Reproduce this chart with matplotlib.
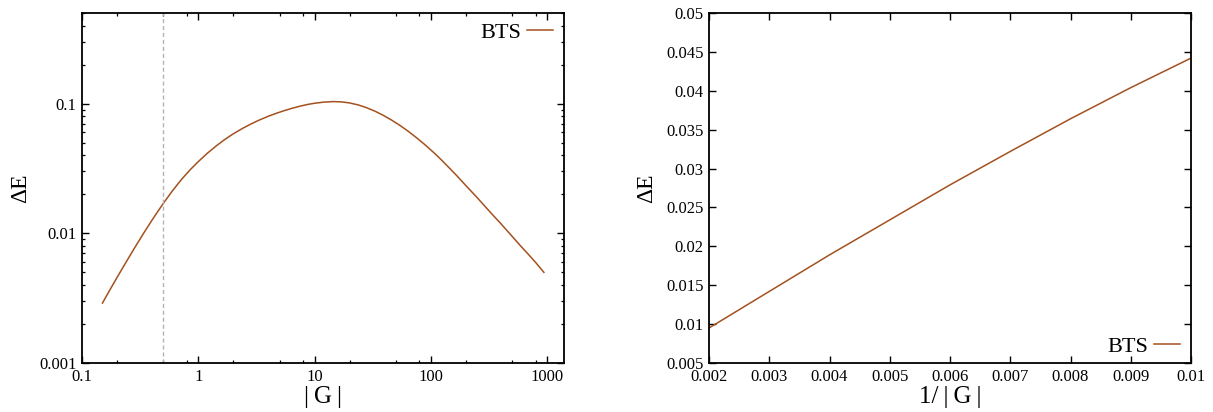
import matplotlib
matplotlib.use("Agg")
import matplotlib.pyplot as plt
from matplotlib import ticker

# ---- data ----
G_left = [0.15, 0.17, 0.2, 0.24, 0.29, 0.34, 0.4, 0.45, 0.5, 0.6, 0.72, 0.85,
          1.0, 1.2, 1.44, 1.7, 2.0, 2.4, 2.8, 3.3, 4.0, 4.7, 5.4, 6.4, 7.5,
          8.7, 10, 12, 14.5, 17, 20, 24, 28, 33, 39, 46, 54, 64, 76, 88, 100,
          111, 125, 143, 167, 200, 250, 333, 400, 500, 600, 700, 800, 940]
dE_left = [0.0029, 0.00354, 0.00456, 0.00602, 0.00799, 0.01006, 0.01262,
           0.01479, 0.01698, 0.02128, 0.02612, 0.03085, 0.0357, 0.04152,
           0.0475, 0.0531, 0.0585, 0.0644, 0.0692, 0.0743, 0.0799, 0.0843,
           0.0879, 0.0920, 0.0956, 0.0985, 0.1007, 0.1027, 0.1037, 0.1032,
           0.1013, 0.0975, 0.0931, 0.0876, 0.0813, 0.0747, 0.0682, 0.0612,
           0.0543, 0.0487, 0.0440, 0.0404, 0.0364, 0.0322, 0.0279, 0.0234,
           0.0189, 0.0142, 0.0119, 0.0095, 0.0079, 0.0068, 0.00595, 0.0050]
G_marker = 0.5

invG_right = [0.002, 0.003, 0.004, 0.005, 0.006, 0.007, 0.008, 0.009, 0.010]
dE_right = [0.0095, 0.0142, 0.0189, 0.0234, 0.0279, 0.0322, 0.0364, 0.0404, 0.0442]

series_label = "BTS"
line_color = "#a3511f"

plt.rcParams['font.family'] = ['Liberation Serif', 'DejaVu Serif']

W, H = 1213, 412
fig = plt.figure(figsize=(W / 100, H / 100), dpi=100)

def axrect(x0, x1, y0, y1):
    return [x0 / W, 1 - y1 / H, (x1 - x0) / W, (y1 - y0) / H]

fmt = ticker.FuncFormatter(lambda v, p: '%g' % v)

def style(ax):
    for s in ax.spines.values():
        s.set_linewidth(1.3)
        s.set_color('black')
    ax.tick_params(which='both', direction='in', top=True, right=True,
                   labelsize=12, colors='black')
    ax.tick_params(which='major', length=5, width=1.0, pad=4)
    ax.tick_params(which='minor', length=2.5, width=0.9)

leg_kw = dict(markerfirst=False, frameon=False, fontsize=16,
              handlelength=1.15, handletextpad=0.25, borderpad=0.2,
              borderaxespad=0.0)

# ---- left panel ----
ax1 = fig.add_axes(axrect(82, 564, 13, 363))
ax1.set_xscale('log')
ax1.set_yscale('log')
ax1.plot(G_left, dE_left, color=line_color, lw=1.1, label=series_label)
ax1.axvline(G_marker, color='#b4b4b4', lw=1.0, ls=(0, (3, 2)))
ax1.set_xlim(0.1, 1400)
ax1.set_ylim(0.001, 0.5)
ax1.xaxis.set_major_locator(ticker.FixedLocator([0.1, 1, 10, 100, 1000]))
ax1.xaxis.set_minor_locator(ticker.LogLocator(base=10, subs=[2, 5, 8]))
ax1.yaxis.set_major_locator(ticker.FixedLocator([0.001, 0.01, 0.1]))
ax1.yaxis.set_minor_locator(ticker.LogLocator(base=10, subs=[2, 3, 4, 5, 6, 7, 8, 9]))
ax1.xaxis.set_major_formatter(fmt)
ax1.yaxis.set_major_formatter(fmt)
ax1.xaxis.set_minor_formatter(ticker.NullFormatter())
ax1.yaxis.set_minor_formatter(ticker.NullFormatter())
style(ax1)
ax1.set_xlabel('|\u2009G\u2009|', fontsize=18, labelpad=1)
ax1.set_ylabel('ΔE', fontsize=17, labelpad=6)
ax1.legend(loc='upper right', bbox_to_anchor=(0.9855, 0.9857), **leg_kw)

# ---- right panel ----
ax2 = fig.add_axes(axrect(709, 1191, 13, 363))
ax2.plot(invG_right, dE_right, color=line_color, lw=1.1, label=series_label)
ax2.set_xlim(0.002, 0.01)
ax2.set_ylim(0.005, 0.05)
ax2.xaxis.set_major_locator(ticker.MultipleLocator(0.001))
ax2.yaxis.set_major_locator(ticker.MultipleLocator(0.005))
ax2.xaxis.set_major_formatter(fmt)
ax2.yaxis.set_major_formatter(fmt)
style(ax2)
ax2.set_xlabel('1/\u2009|\u2009G\u2009|', fontsize=18, labelpad=1)
ax2.set_ylabel('ΔE', fontsize=17, labelpad=6)
ax2.legend(loc='lower right', bbox_to_anchor=(0.9855, 0.0057), **leg_kw)

fig.savefig('out.png', dpi=100)
